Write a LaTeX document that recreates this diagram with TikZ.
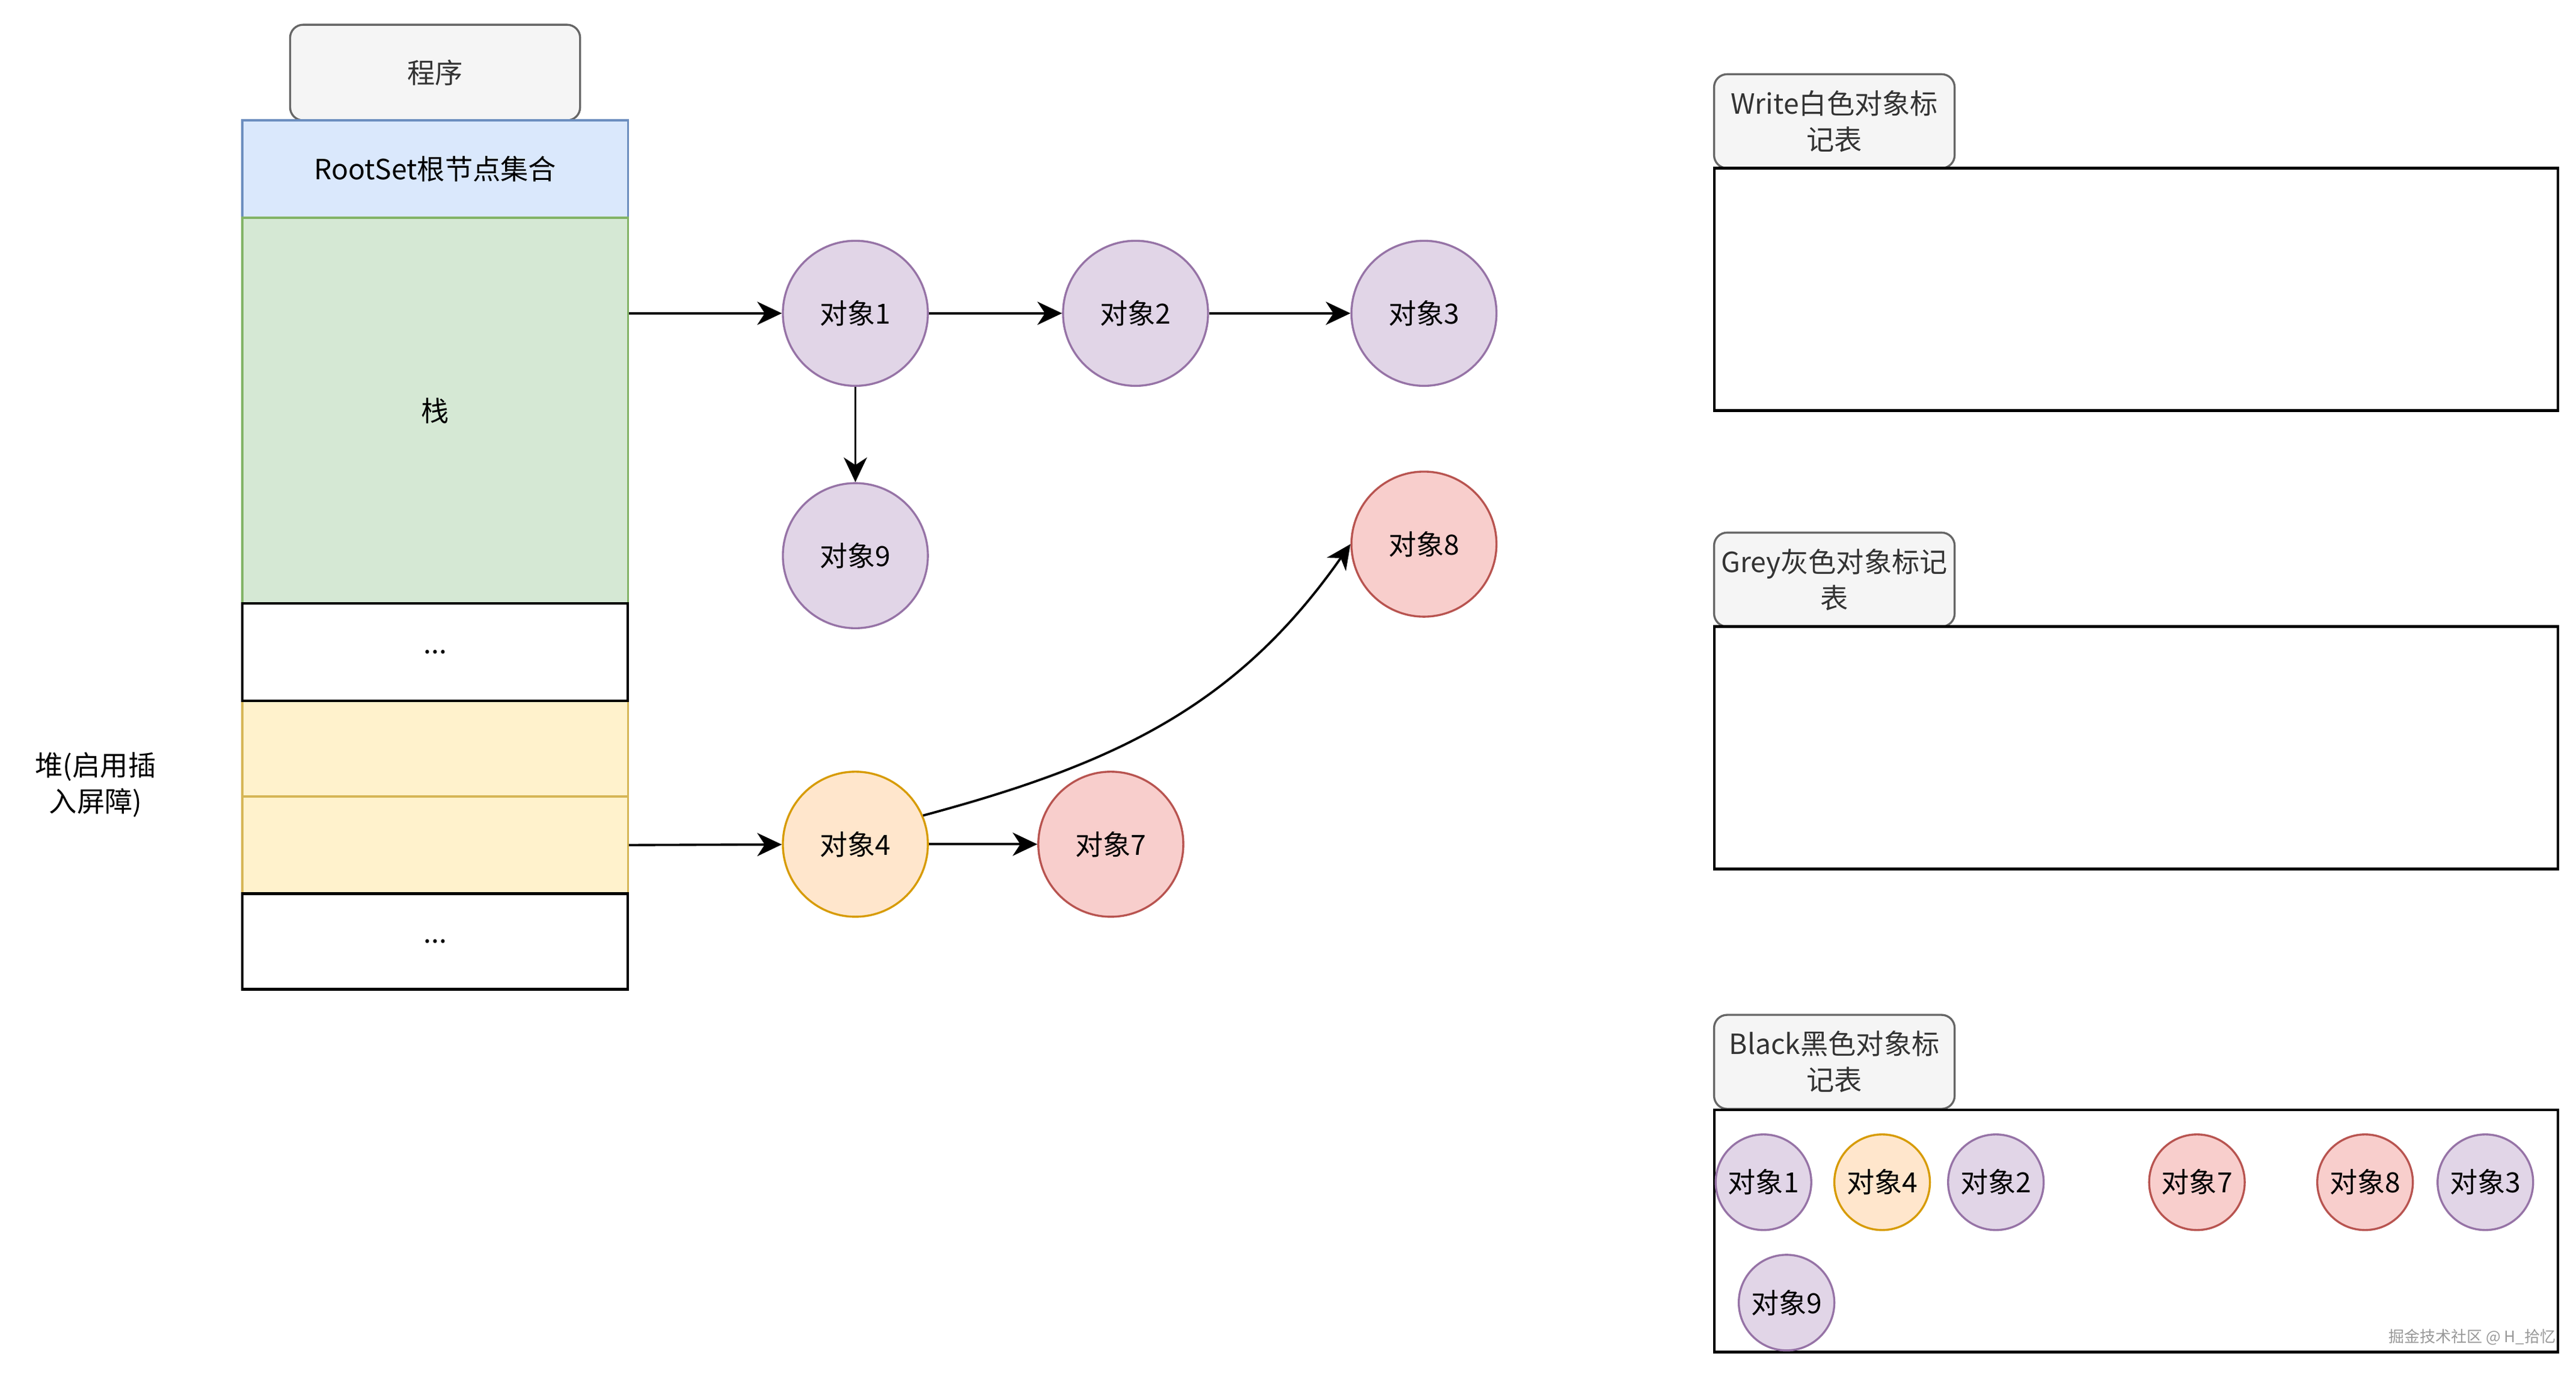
\documentclass[tikz,border=0pt]{standalone}
\usepackage{fontspec}
\setmainfont{Noto Sans CJK SC}
\usetikzlibrary{arrows.meta}

\definecolor{tagfill}{HTML}{F5F5F5}
\definecolor{tagline}{HTML}{666666}
\definecolor{tagtext}{HTML}{333333}
\definecolor{rootfill}{HTML}{DAE8FC}
\definecolor{rootline}{HTML}{6C8EBF}
\definecolor{stackfill}{HTML}{D5E8D4}
\definecolor{stackline}{HTML}{82B366}
\definecolor{heapfill}{HTML}{FFF2CC}
\definecolor{heapline}{HTML}{D6B656}
\definecolor{purplefill}{HTML}{E1D5E7}
\definecolor{purpleline}{HTML}{9673A6}
\definecolor{orangefill}{HTML}{FFE6CC}
\definecolor{orangeline}{HTML}{D79B00}
\definecolor{redfill}{HTML}{F8CECC}
\definecolor{redline}{HTML}{B85450}

\tikzset{
  txt/.style={font=\fontsize{9.6pt}{12.5pt}\selectfont},
  tag/.style={txt, draw=tagline, fill=tagfill, text=tagtext, rounded corners=4.5pt,
    line width=0.7pt, inner sep=0pt, align=center},
  block/.style={txt, rectangle, minimum width=4.68cm, inner sep=0pt, line width=0.7pt},
  table/.style={draw=black, fill=white, line width=0.9pt, minimum width=10.24cm,
    minimum height=2.94cm, inner sep=0pt},
  obj/.style={txt, circle, minimum size=1.76cm, inner sep=0pt, line width=0.7pt},
  small/.style={minimum size=1.16cm},
  objpurple/.style={obj, draw=purpleline, fill=purplefill},
  objorange/.style={obj, draw=orangeline, fill=orangefill},
  objred/.style={obj, draw=redline, fill=redfill},
  link/.style={-{Stealth[length=8.5pt,width=8pt,inset=2.6pt]}, line width=0.8pt}
}

\begin{document}
\begin{tikzpicture}[x=0.02cm,y=0.02cm]
\useasboundingbox (0,0) rectangle (1563,-833.3);

% program memory
\node[tag, minimum width=3.52cm, minimum height=1.16cm] (prog) at (264,-44) {程序};
\node[block, fill=rootfill, draw=rootline, minimum height=1.18cm] (root) at (264,-102.5) {RootSet根节点集合};
\node[block, fill=stackfill, draw=stackline, minimum height=4.68cm] (stack) at (264,-249) {栈};
\node[block, fill=heapfill, draw=heapline, minimum height=1.16cm] (heap1) at (264,-454) {};
\node[block, fill=heapfill, draw=heapline, minimum height=1.18cm] (heap2) at (264,-512.5) {};
\node[block, draw=black, fill=white, line width=0.9pt, minimum height=1.18cm] (gap1) at (264,-395.5) {...};
\node[block, draw=black, fill=white, line width=0.9pt, minimum height=1.16cm] (gap2) at (264,-571) {...};

\node[txt, align=center] (heaplbl) at (58,-476) {堆(启用插\\入屏障)};

% objects
\node[objpurple] (o1) at (519,-190) {对象1};
\node[objpurple] (o2) at (689,-190) {对象2};
\node[objpurple] (o3) at (864,-190) {对象3};
\node[objpurple] (o9) at (519,-337) {对象9};
\node[objred] (o8) at (864,-330) {对象8};
\node[objorange] (o4) at (519,-512) {对象4};
\node[objred] (o7) at (674,-512) {对象7};

\draw[link] (o1 -| stack.east) -- (o1);
\draw[link] (o1) -- (o2);
\draw[link] (o2) -- (o3);
\draw[link] (o1) -- (o9);
\draw[link] (heap2.east) -- (o4);
\draw[link] (o4) -- (o7);
\draw[link] (o4.23) to[out=15,in=235] (o8.west);

% mark tables
\node[tag, minimum width=2.92cm, minimum height=1.14cm] (wtag) at (1113,-73.5) {Write白色对象标\\记表};
\node[table] (wtab) at (1296,-175.5) {};

\node[tag, minimum width=2.92cm, minimum height=1.14cm] (gtag) at (1113,-351.5) {Grey灰色对象标记\\表};
\node[table] (gtab) at (1296,-453.5) {};

\node[tag, minimum width=2.92cm, minimum height=1.14cm] (btag) at (1113,-644) {Black黑色对象标\\记表};
\node[table] (btab) at (1296,-746.5) {};

\node[objpurple, small] (b1) at (1070,-717) {对象1};
\node[objorange, small] (b4) at (1142,-717) {对象4};
\node[objpurple, small] (b2) at (1211,-717) {对象2};
\node[objred, small] (b7) at (1333,-717) {对象7};
\node[objred, small] (b8) at (1435,-717) {对象8};
\node[objpurple, small] (b3) at (1508,-717) {对象3};
\node[objpurple, small] (b9) at (1084,-790) {对象9};

\node[font=\fontsize{5.4pt}{6pt}\selectfont, text=gray!80] (mark) at (1500,-811) {掘金技术社区 @ H\_拾忆};

\end{tikzpicture}
\end{document}
